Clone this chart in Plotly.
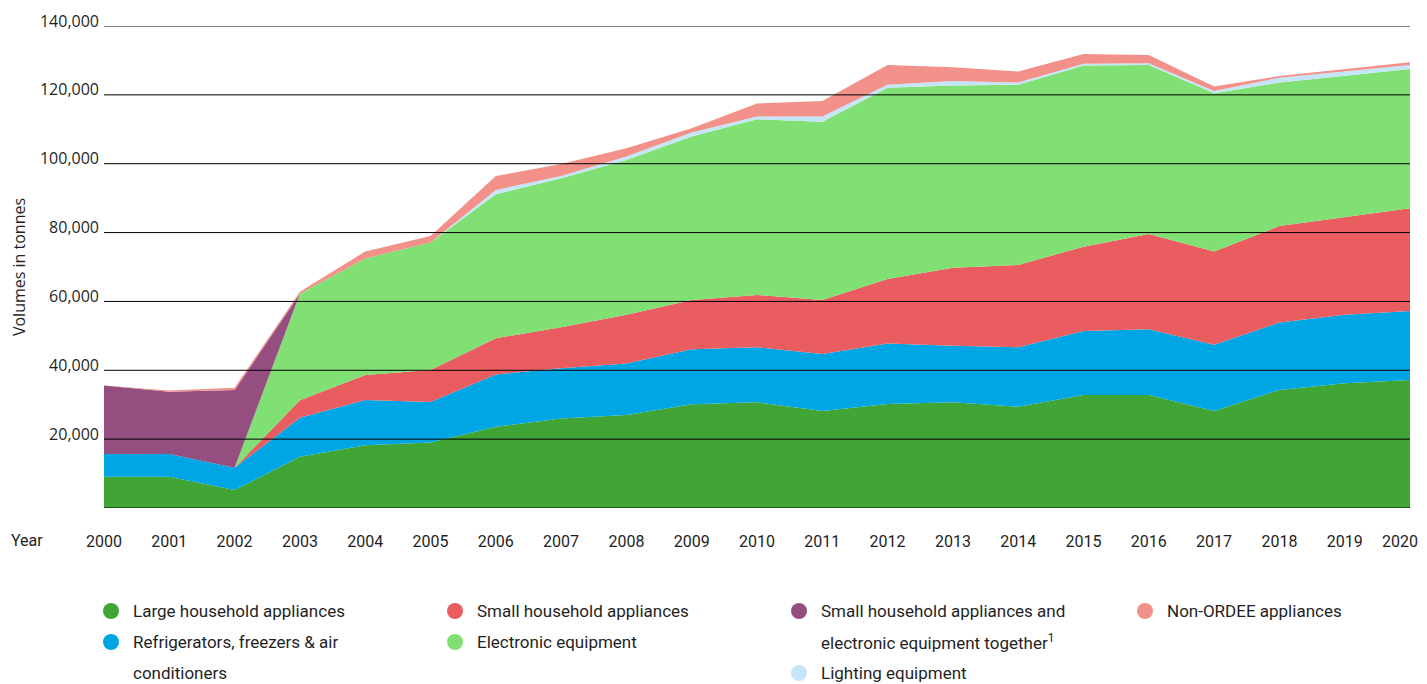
import plotly.graph_objects as go


years = list(range(2000, 2021))

large_household = [9100, 9100, 5200, 14900, 18200, 19000, 23600, 26000, 27000, 30100, 30700,
                   28200, 30200, 30700, 29400, 32800, 32800, 28200, 34300, 36200, 37200]
refrigerators = [6600, 6600, 6500, 11300, 13200, 11800, 15200, 14600, 15000, 16000, 16000,
                 16500, 17600, 16400, 17300, 18600, 19100, 19200, 19600, 19900, 20000]
small_household = [0, 0, 0, 5100, 7200, 9300, 10500, 11900, 14100, 14300, 15200,
                   15700, 18700, 22700, 23900, 24500, 27700, 27100, 28000, 28500, 29900]
electronic = [0, 0, 0, 30900, 33900, 37000, 41800, 43300, 45000, 47500, 51000,
              51800, 55600, 52900, 52300, 52600, 49100, 46000, 41700, 41000, 40400]
small_and_electronic = [19900, 18100, 22600, 0, 0, 0, 0, 0, 0, 0, 0,
                        0, 0, 0, 0, 0, 0, 0, 0, 0, 0]
lighting = [0, 0, 0, 0, 0, 0, 1300, 600, 1000, 1200, 800,
            1500, 800, 1300, 700, 500, 500, 600, 1400, 1200, 1200]
non_ordee = [0, 300, 600, 600, 2000, 1900, 4000, 3500, 2400, 1200, 3800,
             4500, 5800, 4000, 3200, 2900, 2400, 1300, 500, 600, 800]

year_labels = [str(y) for y in years]
y_ticks = [20000, 40000, 60000, 80000, 100000, 120000, 140000]
grid_values = [0] + y_ticks

series = [
    ("Large household appliances", large_household, "#40a535"),
    ("Refrigerators, freezers & air conditioners", refrigerators, "#00a6e4"),
    ("Small household appliances", small_household, "#e95c60"),
    ("Electronic equipment", electronic, "#80e073"),
    ("Small household appliances and electronic equipment together", small_and_electronic, "#954e80"),
    ("Lighting equipment", lighting, "#c4e6f8"),
    ("Non-ORDEE appliances", non_ordee, "#f2918a"),
]

# legend grid: (column, first row, colour, text lines)
legend_items = [
    (0, 0, "#40a535", ["Large household appliances"]),
    (0, 1, "#00a6e4", ["Refrigerators, freezers & air", "conditioners"]),
    (1, 0, "#e95c60", ["Small household appliances"]),
    (1, 1, "#80e073", ["Electronic equipment"]),
    (2, 0, "#954e80", ["Small household appliances and", "electronic equipment together<sup>1</sup>"]),
    (2, 2, "#c4e6f8", ["Lighting equipment"]),
    (3, 0, "#f2918a", ["Non-ORDEE appliances"]),
]

# the page body adds an 8px margin, so the figure is laid out 8px up/left of the screen coords
PAGE_MARGIN = 8
WIDTH, HEIGHT = 1427 - PAGE_MARGIN, 684 - PAGE_MARGIN
PLOT_LEFT, PLOT_RIGHT, PLOT_TOP, PLOT_BOTTOM = 96, 1402, 18, 500
FONT = "Roboto, Arial, sans-serif"
AXIS_FONT = "Open Sans, Noto Sans, sans-serif"
TEXT_COLOR = "#1f1f1f"


def _px(x: float, y: float) -> tuple[float, float]:
    return (
        (x - PLOT_LEFT) / (PLOT_RIGHT - PLOT_LEFT),
        (PLOT_BOTTOM - y) / (PLOT_BOTTOM - PLOT_TOP),
    )


fig = go.Figure()
for name, values, color in series:
    fig.add_trace(
        go.Scatter(
            x=years,
            y=values,
            name=name,
            mode="lines",
            stackgroup="waste",
            line={"width": 0, "color": color},
            fillcolor=color,
            showlegend=False,
            hovertemplate=f"{name}<br>%{{x}}: %{{y:,.0f}} t<extra></extra>",
        )
    )

shapes = []
for value in grid_values:
    shapes.append(
        dict(type="line", xref="paper", yref="y", x0=0, x1=1, y0=value, y1=value,
             line={"color": "#000000", "width": 1}, layer="above")
    )

annotations = [
    dict(text="Year", x=_px(19, 0)[0], y=_px(0, 532)[1], xref="paper", yref="paper",
         showarrow=False, xanchor="center", yanchor="middle",
         font={"size": 16, "color": TEXT_COLOR, "family": FONT}),
]

column_x = [103, 447, 791, 1137]
row_y = [603, 634, 665]
for column, row, color, lines in legend_items:
    cx, cy = _px(column_x[column], row_y[row])
    shapes.append(
        dict(type="circle", xref="paper", yref="paper", xsizemode="pixel", ysizemode="pixel",
             xanchor=cx, yanchor=cy, x0=-8, x1=8, y0=-8, y1=8,
             fillcolor=color, line={"width": 0})
    )
    for offset, line_text in enumerate(lines):
        tx, ty = _px(column_x[column] + 20, row_y[row + offset])
        annotations.append(
            dict(text=line_text, x=tx, y=ty, xref="paper", yref="paper", showarrow=False,
                 xanchor="left", yanchor="middle",
                 font={"size": 17, "color": TEXT_COLOR, "family": FONT})
        )

# last year label sits at the right edge: pad it so it stays inside the page
tick_text = year_labels[:-1] + [year_labels[-1] + "\u00a0" * 5]

fig.update_layout(
    width=WIDTH,
    height=HEIGHT,
    margin=dict(l=PLOT_LEFT, r=WIDTH - PLOT_RIGHT, t=PLOT_TOP, b=HEIGHT - PLOT_BOTTOM),
    paper_bgcolor="#ffffff",
    plot_bgcolor="#ffffff",
    font={"family": FONT, "size": 16, "color": TEXT_COLOR},
    shapes=shapes,
    annotations=annotations,
    hovermode="x unified",
)
fig.update_xaxes(
    range=[2000, 2020],
    tickvals=years,
    ticktext=tick_text,
    showgrid=False,
    zeroline=False,
    showline=False,
    ticks="",
    automargin=False,
    ticklabelstandoff=22,
    ticklabeloverflow="allow",
    tickfont={"size": 16, "color": TEXT_COLOR},
)
fig.update_yaxes(
    range=[0, 140000],
    tickvals=y_ticks,
    ticktext=[f"{v:,}" for v in y_ticks],
    showgrid=False,
    zeroline=False,
    showline=False,
    ticks="",
    automargin=False,
    ticklabelstandoff=4,
    ticklabelshift=-5,
    tickfont={"size": 16, "color": TEXT_COLOR, "family": AXIS_FONT},
    title={"text": "Volumes in tonnes", "standoff": 20,
           "font": {"size": 16, "color": TEXT_COLOR, "family": AXIS_FONT}},
)

fig.write_html("out.html")
